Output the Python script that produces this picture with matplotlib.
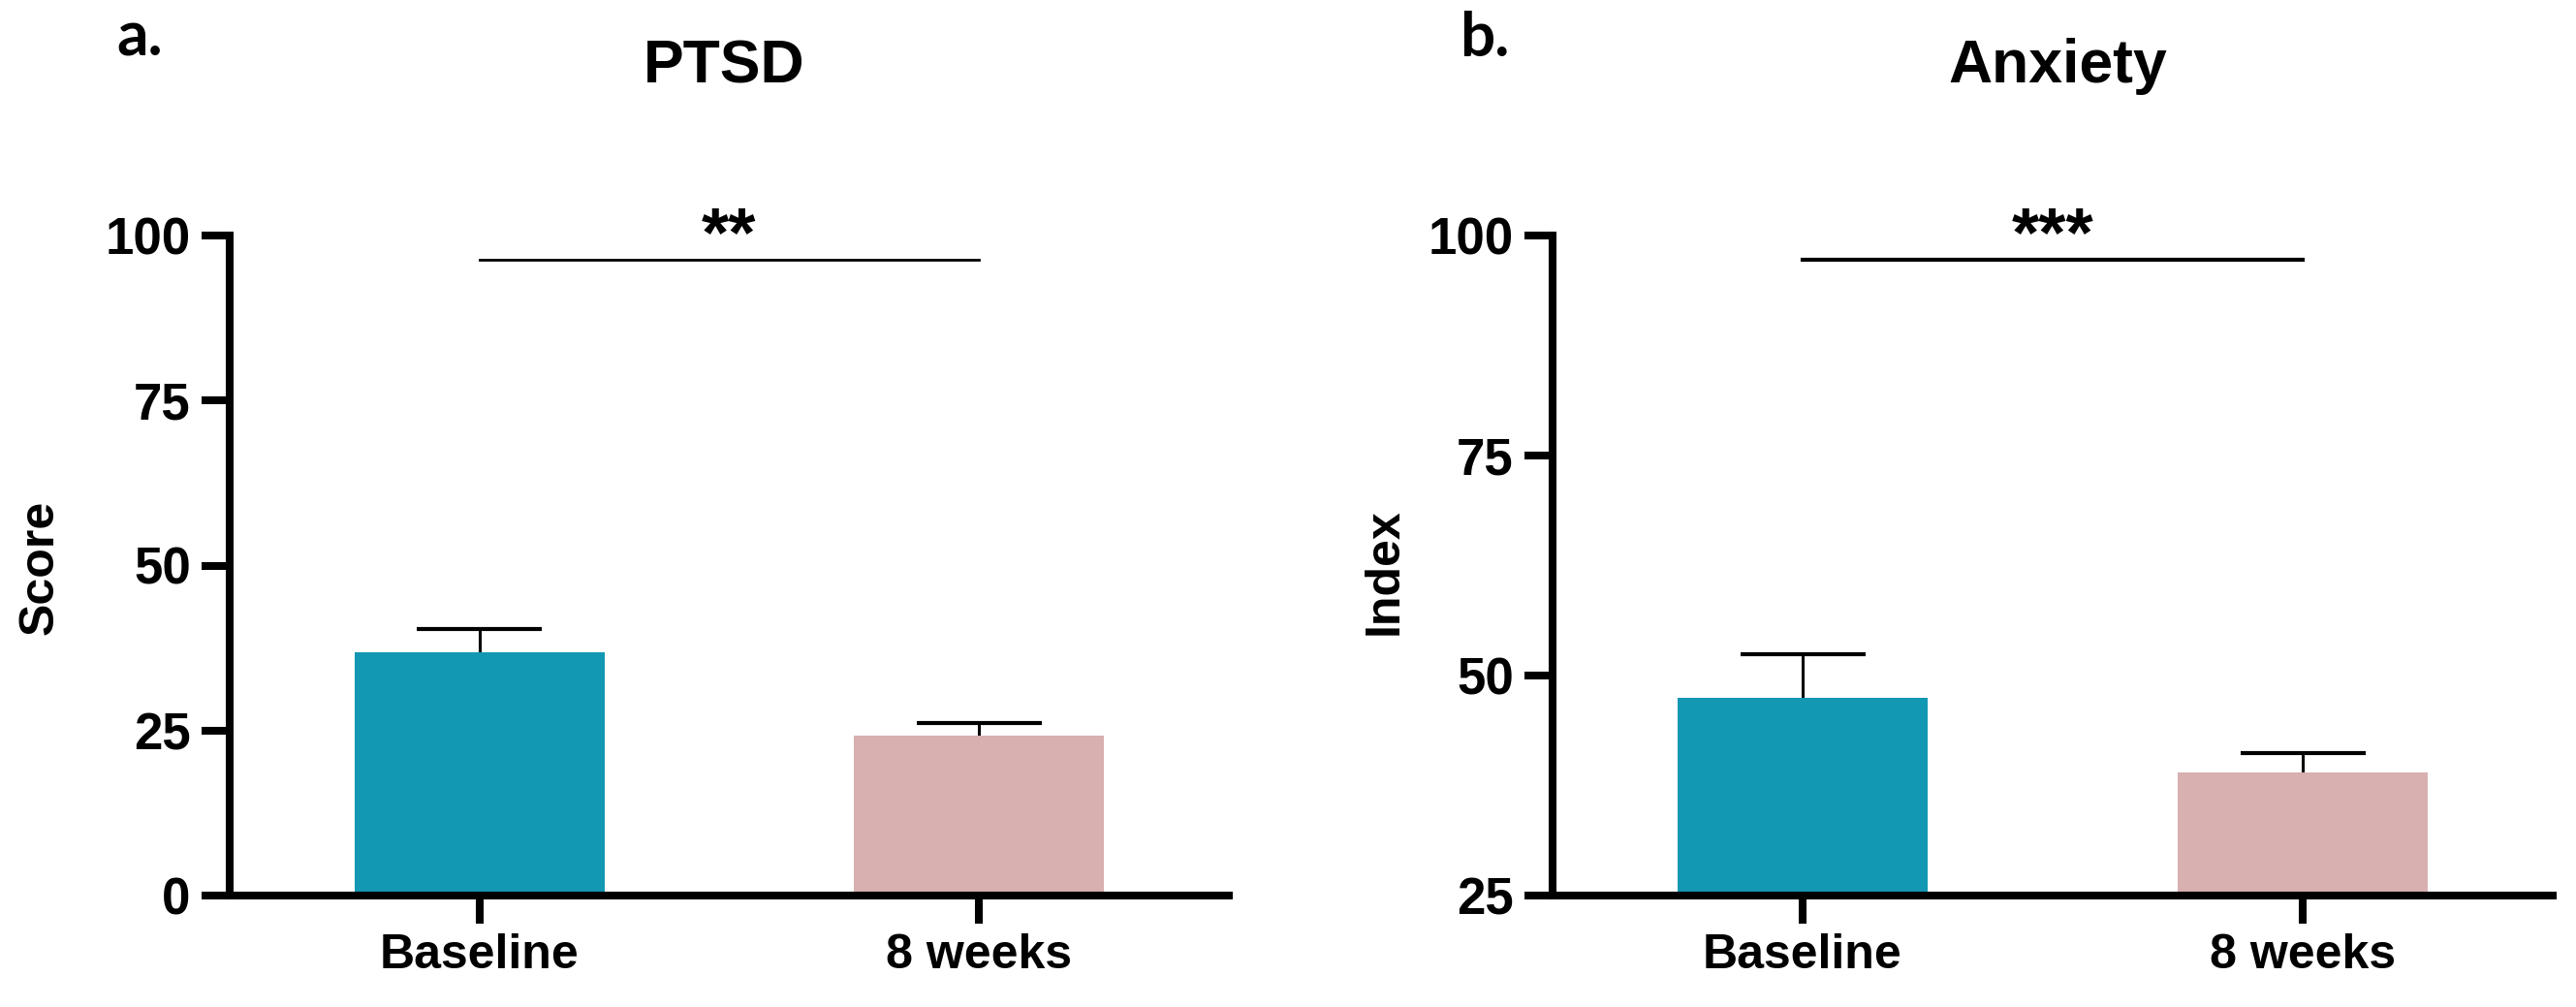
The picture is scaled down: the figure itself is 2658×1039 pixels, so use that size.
import matplotlib
matplotlib.use("Agg")
import matplotlib.pyplot as plt

# Daten
groups = ["Baseline", "8 weeks"]
ptsd_mean = [36.9, 24.2]
ptsd_err = [3.5, 1.9]
anx_mean = [47.5, 39.0]
anx_err = [4.9, 2.2]
ptsd_ticks = [0, 25, 50, 75, 100]
anx_ticks = [25, 50, 75, 100]

bar_colors = ["#1298b3", "#d7b0af"]
main_font = ["Liberation Sans", "DejaVu Sans"]
letter_font = ["Lato", "Liberation Sans", "DejaVu Sans"]

W, H = 2658, 1039
fig = plt.figure(figsize=(W / 100, H / 100), dpi=100)
ax_a = fig.add_axes([237 / W, 1 - 924 / H, 1031 / W, 681 / H])
ax_b = fig.add_axes([1602 / W, 1 - 924 / H, 1032 / W, 681 / H])


def draw_panel(ax, means, errs, ticks, ylim, stars, sig_lw):
    x = list(range(len(groups)))
    ax.bar(x, means, width=0.5, color=bar_colors, zorder=2)
    # Fehlerbalken nur nach oben (Stiel + Kappe)
    tops = [m + e for m, e in zip(means, errs)]
    ax.vlines(x, means, tops, color="black", lw=2.2, zorder=1)
    ax.hlines(tops, [xi - 0.125 for xi in x], [xi + 0.125 for xi in x],
              color="black", lw=3, zorder=1)
    ax.set_xlim(-0.5, 1.5)
    ax.set_ylim(*ylim)
    ax.set_yticks(ticks)
    ax.set_xticks(x)
    ax.set_xticklabels(groups)
    for s in ["top", "right"]:
        ax.spines[s].set_visible(False)
    for s in ["left", "bottom"]:
        ax.spines[s].set_linewidth(5.8)
    ax.tick_params(axis="y", length=21, width=5.8, pad=8)
    ax.tick_params(axis="x", length=21, width=5.8, pad=7)
    for lab in ax.get_yticklabels():
        lab.set_fontfamily(main_font)
        lab.set_fontweight("bold")
        lab.set_fontsize(38)
    for lab in ax.get_xticklabels():
        lab.set_fontfamily(main_font)
        lab.set_fontweight("bold")
        lab.set_fontsize(36)
    # Signifikanz-Linie
    trans = ax.get_xaxis_transform()
    ax.plot([0, 1], [0.963, 0.963], color="black", lw=sig_lw, clip_on=False, transform=trans)
    ax.text(0.5, 0.969, stars, ha="center", va="baseline", fontsize=52,
            fontweight="bold", family=main_font, clip_on=False, transform=trans)


draw_panel(ax_a, ptsd_mean, ptsd_err, ptsd_ticks, (0, 100), "**", 2.0)
draw_panel(ax_b, anx_mean, anx_err, anx_ticks, (25, 100), "***", 3.0)

# Achsenbeschriftungen
fig.text(42 / W, 1 - 585 / H, "Score", rotation=90, ha="center", va="center",
         fontsize=36, fontweight="bold", family=main_font)
fig.text(1429 / W, 1 - 590 / H, "Index", rotation=90, ha="center", va="center",
         fontsize=36, fontweight="bold", family=main_font)

# Titel und Panel-Buchstaben
fig.text(747 / W, 1 - 85 / H, "PTSD", ha="center", va="baseline", fontsize=45,
         fontweight="bold", family=main_font)
fig.text(2123 / W, 1 - 85 / H, "Anxiety", ha="center", va="baseline", fontsize=45,
         fontweight="bold", family=main_font)
fig.text(120 / W, 1 - 58 / H, "a.", ha="left", va="baseline", fontsize=46,
         fontweight="bold", family=letter_font)
fig.text(1506 / W, 1 - 58 / H, "b.", ha="left", va="baseline", fontsize=46,
         fontweight="bold", family=letter_font)

plt.savefig("out.png", dpi=100)
